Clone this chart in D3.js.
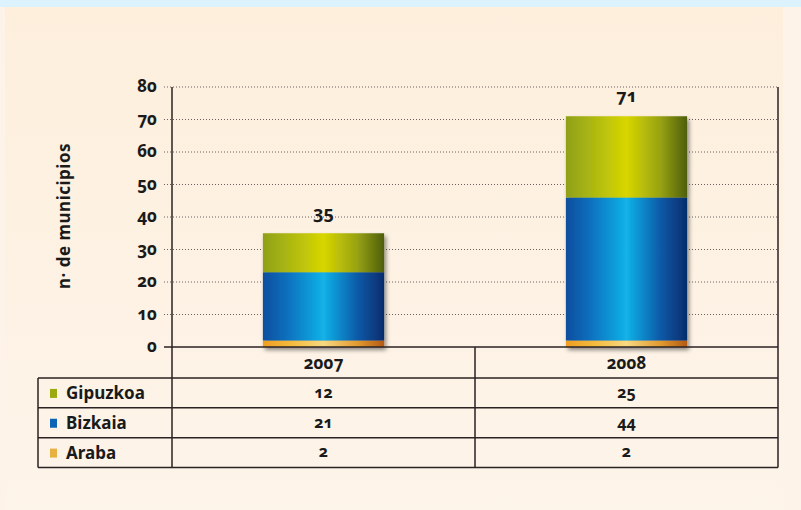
<!DOCTYPE html>
<html><head><meta charset="utf-8">
<script src="https://cdn.jsdelivr.net/npm/d3@7"></script>
<style>
body{margin:0;background:#fdf1e2;}
svg{display:block;}
text{font-family:"Noto Sans","Open Sans",sans-serif;font-weight:bold;fill:#1a1a1a;font-variant-numeric:oldstyle-nums;}
</style></head>
<body>
<svg id="c" width="801" height="510"></svg>
<script>
const years = ["2007", "2008"];
const series = ["Araba", "Bizkaia", "Gipuzkoa"];
const araba = [2, 2];
const bizkaia = [21, 44];
const gipuzkoa = [12, 25];
const totals = [35, 71];
const yTicks = [0, 10, 20, 30, 40, 50, 60, 70, 80];
const tableRows = ["Gipuzkoa", "Bizkaia", "Araba"];
const yTitle = "n· de municipios";

const values = {Araba: araba, Bizkaia: bizkaia, Gipuzkoa: gipuzkoa};
const grads = {
  Gipuzkoa: [["0%","#8fa014"],["20%","#aab612"],["50%","#d8d600"],["78%","#97a212"],["100%","#4e5e10"]],
  Bizkaia: [["0%","#0a4e9e"],["20%","#0a70be"],["50%","#12b2e8"],["78%","#0a5aa8"],["100%","#062c6c"]],
  Araba: [["0%","#ef9e22"],["25%","#f4bc40"],["50%","#f8d880"],["78%","#e29a30"],["100%","#b45a14"]]
};
const legendColor = {Gipuzkoa:"#9aaa10", Bizkaia:"#0a66b4", Araba:"#e8b040"};

const svg = d3.select("#c");
const bg = svg.append("defs");
const bgGrad = bg.append("linearGradient").attr("id","bgg").attr("x1",0).attr("y1",0).attr("x2",0).attr("y2",1);
bgGrad.append("stop").attr("offset","0%").attr("stop-color","#fdefdc");
bgGrad.append("stop").attr("offset","100%").attr("stop-color","#fdf4ea");
svg.append("rect").attr("width",801).attr("height",510).attr("fill","#fdf3e8");
svg.append("rect").attr("x",0).attr("y",0).attr("width",801).attr("height",7).attr("fill","#dcf2fc");
svg.append("rect").attr("x",5).attr("y",7).attr("width",778).attr("height",503).attr("fill","url(#bgg)");

Object.entries(grads).forEach(([k, stops]) => {
  const g = bg.append("linearGradient").attr("id","g-"+k).attr("x1",0).attr("x2",1).attr("y1",0).attr("y2",0);
  stops.forEach(s => g.append("stop").attr("offset", s[0]).attr("stop-color", s[1]));
});
const f = bg.append("filter").attr("id","sh").attr("x","-10%").attr("y","-10%").attr("width","130%").attr("height","130%");
f.append("feDropShadow").attr("dx",2).attr("dy",3).attr("stdDeviation",2).attr("flood-color","#000").attr("flood-opacity",0.45);

const x0 = 172, x1 = 778;
const x = d3.scaleBand().domain(years).range([x0, x1]).padding(0);
const y = d3.scaleLinear().domain([0, 80]).range([347, 87]);
const barW = x.bandwidth() * 0.4;

// gridlines
svg.append("g").selectAll("line").data(yTicks.filter(d => d > 0)).join("line")
  .attr("x1", 164).attr("x2", x1).attr("y1", d => y(d)).attr("y2", d => y(d))
  .attr("stroke", "#6a6060").attr("stroke-width", 1).attr("stroke-dasharray", "1,2");

// tick labels
svg.append("g").selectAll("text").data(yTicks).join("text")
  .attr("x", 157).attr("y", d => y(d)).attr("dy", "0.3em")
  .attr("text-anchor", "end").attr("font-size", 17).text(d => d);

// y title
svg.append("text").attr("transform", "translate(70," + ((y(0) + y(80)) / 2 - 1) + ") rotate(-90)")
  .attr("text-anchor", "middle").attr("font-size", 17).attr("letter-spacing", 0.5)
  .style("font-variant-numeric","normal").text(yTitle);

// bars
const stack = d3.stack().keys(series)(years.map((yr, i) => ({year: yr, Araba: araba[i], Bizkaia: bizkaia[i], Gipuzkoa: gipuzkoa[i]})));
const bars = svg.append("g").attr("filter", "url(#sh)");
stack.forEach(layer => {
  bars.selectAll(null).data(layer).join("rect")
    .attr("x", d => x(d.data.year) + (x.bandwidth() - barW) / 2)
    .attr("width", barW)
    .attr("y", d => y(d[1]))
    .attr("height", d => y(d[0]) - y(d[1]))
    .attr("fill", "url(#g-" + layer.key + ")");
});

// totals
svg.append("g").selectAll("text").data(years).join("text")
  .attr("x", d => x(d) + x.bandwidth() / 2)
  .attr("y", (d, i) => y(totals[i]) - 14)
  .attr("text-anchor", "middle").attr("font-size", 18).text((d, i) => totals[i]);

// frame lines
const ln = (a, b, c, d, w) => svg.append("line").attr("x1", a).attr("y1", b).attr("x2", c).attr("y2", d)
  .attr("stroke", "#2a2222").attr("stroke-width", w || 1.5);
ln(164, y(0), x1, y(0), 1.5);
ln(x0, y(80), x0, 467.5);
ln(x1, y(80), x1, 467.5);
ln(x(years[1]), y(0), x(years[1]), 467.5);

// table
const rowY = d3.scaleBand().domain(tableRows).range([378, 467.5]);
const tLeft = 38;
[378].concat(tableRows.map(r => rowY(r) + rowY.bandwidth())).forEach(v => ln(tLeft, v, x1, v));
ln(tLeft, 378, tLeft, 467.5);

// header
svg.append("g").selectAll("text").data(years).join("text")
  .attr("x", d => x(d) + x.bandwidth() / 2).attr("y", (y(0) + 378) / 2 + 1).attr("dy", "0.3em")
  .attr("text-anchor", "middle").attr("font-size", 17).text(d => d);

// rows
tableRows.forEach(r => {
  const cy = rowY(r) + rowY.bandwidth() / 2;
  svg.append("rect").attr("x", 50).attr("y", cy - 4).attr("width", 7).attr("height", 9).attr("fill", legendColor[r]);
  svg.append("text").attr("x", 66).attr("y", cy).attr("dy", "0.36em").attr("font-size", 17).text(r);
  years.forEach((yr, i) => {
    svg.append("text").attr("x", x(yr) + x.bandwidth() / 2).attr("y", cy).attr("dy", "0.3em")
      .attr("text-anchor", "middle").attr("font-size", 16).text(values[r][i]);
  });
});
</script>
</body></html>
